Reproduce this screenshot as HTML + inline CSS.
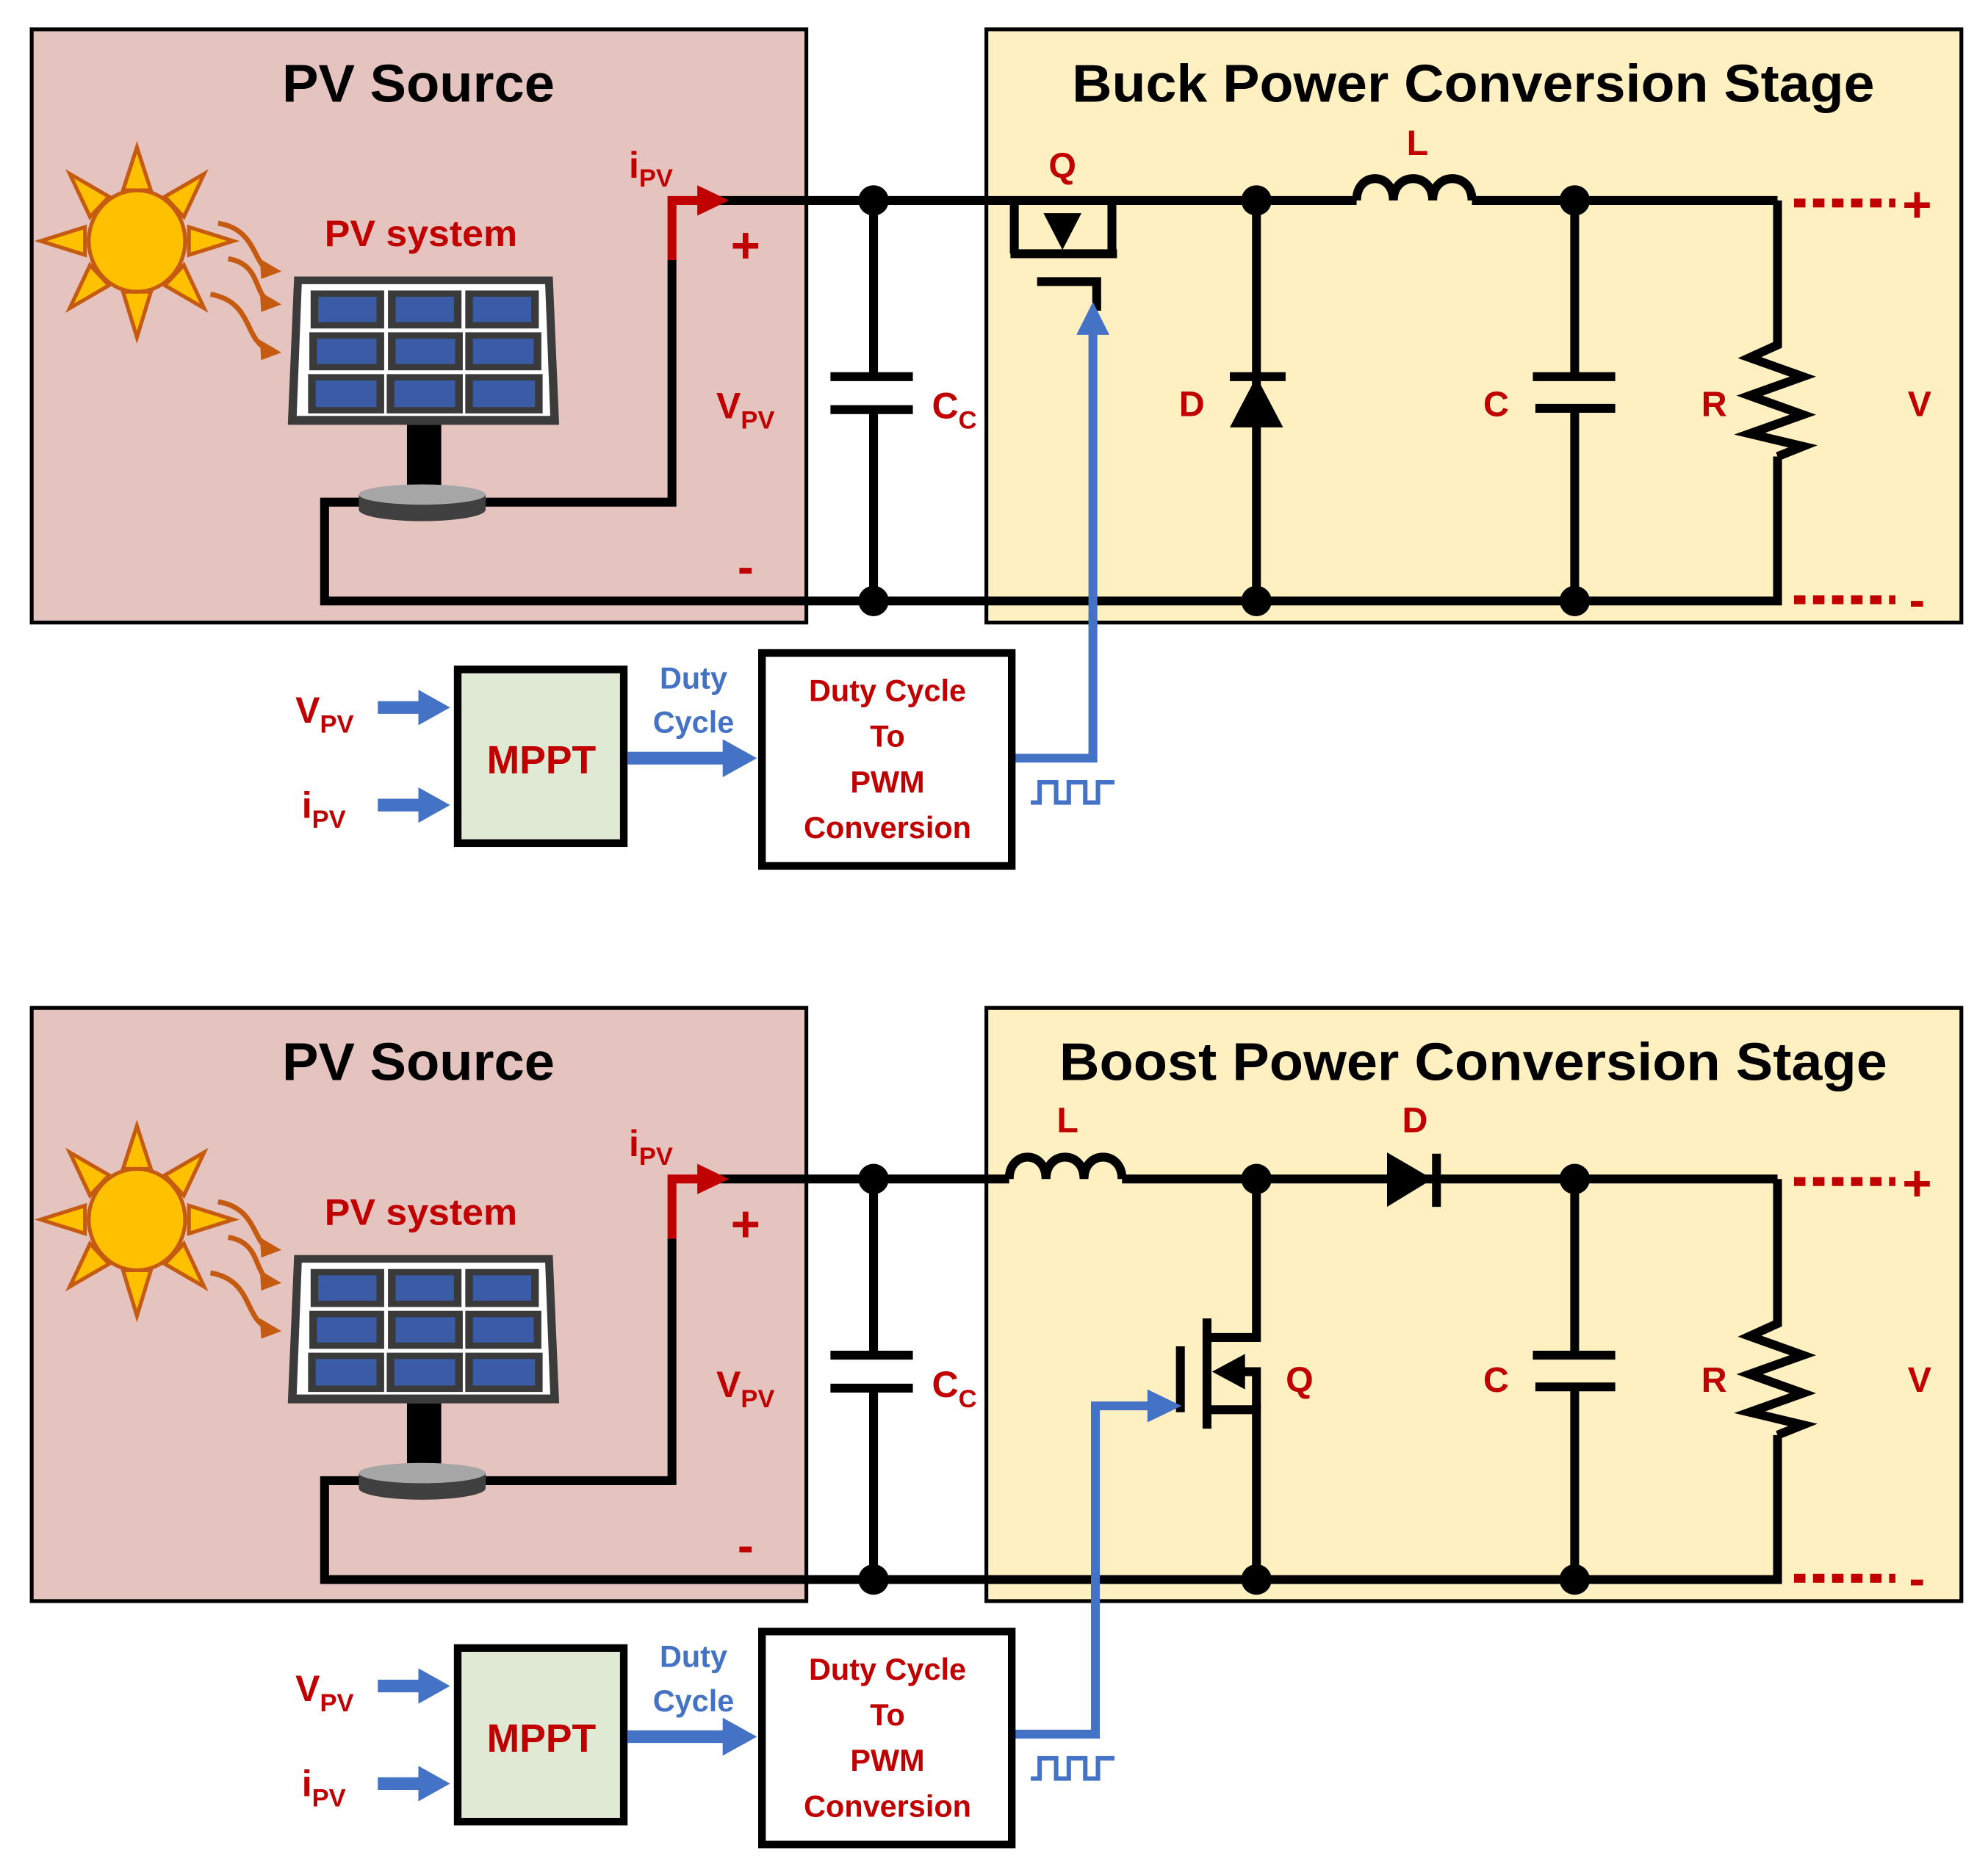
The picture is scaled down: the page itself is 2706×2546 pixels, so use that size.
<!DOCTYPE html>
<html><head><meta charset="utf-8"><style>
html,body{margin:0;padding:0;background:#fff;}
svg{display:block;}
text{font-family:"Liberation Sans",sans-serif;font-weight:bold;}
.r{fill:#c00000;}
.b{fill:#4472c4;}
.k{fill:#000;}
</style></head><body>
<svg width="2706" height="2546" viewBox="0 0 1568 1475" xmlns="http://www.w3.org/2000/svg">
<defs>
  <g id="sun">
    <g fill="#ffc000" stroke="#c55a11" stroke-width="3" stroke-linejoin="miter">
      <polygon points="108,116 97,150 119,150"/>
      <polygon points="108,266 97,230 119,230"/>
      <polygon points="32,190 67,179 67,201"/>
      <polygon points="184,190 149,179 149,201"/>
      <polygon points="55,137 86,155 71,171"/>
      <polygon points="161,137 130,155 145,171"/>
      <polygon points="55,243 86,225 71,209"/>
      <polygon points="161,243 130,225 145,209"/>
      <ellipse cx="108" cy="190" rx="38" ry="40"/>
    </g>
    <g fill="none" stroke="#c55a11" stroke-width="4">
      <path d="M172,176 C200,180 200,205 210,212"/>
      <path d="M180,204 C205,208 200,230 212,238"/>
      <path d="M166,232 C200,238 192,268 212,276"/>
    </g>
    <g fill="#c55a11">
      <polygon points="222,214 205,204 206,220"/>
      <polygon points="222,240 205,230 206,246"/>
      <polygon points="222,278 205,268 206,284"/>
    </g>
  </g>
  <g id="panel">
    <polygon points="232,218 436,218 441,335 227,335" fill="#3b3b3b"/>
    <polygon points="238,224 430,224 434,328 234,328" fill="#fff"/>
    <g fill="#3a3a3a">
      <rect x="245" y="229" width="58" height="30"/><rect x="306" y="229" width="58" height="30"/><rect x="367" y="229" width="58" height="30"/>
      <rect x="244" y="262" width="59" height="30"/><rect x="306" y="262" width="59" height="30"/><rect x="367" y="262" width="60" height="30"/>
      <rect x="243" y="295" width="60" height="31"/><rect x="305" y="295" width="60" height="31"/><rect x="367" y="295" width="61" height="31"/>
    </g>
    <g fill="#3a5ca6">
      <rect x="251" y="234" width="46" height="20"/><rect x="312" y="234" width="46" height="20"/><rect x="373" y="234" width="46" height="20"/>
      <rect x="250" y="267" width="47" height="20"/><rect x="312" y="267" width="47" height="20"/><rect x="373" y="267" width="48" height="20"/>
      <rect x="249" y="300" width="48" height="21"/><rect x="311" y="300" width="48" height="21"/><rect x="373" y="300" width="49" height="21"/>
    </g>
    <rect x="321" y="335" width="27" height="52" fill="#000"/>
  </g>
  <g id="base">
    <path d="M283,390 L283,402 A50,9 0 0 0 383,402 L383,390 Z" fill="#404040"/>
    <ellipse cx="333" cy="390" rx="50" ry="8" fill="#a6a6a6"/>
  </g>
</defs>

<!-- ================= TOP ================= -->
<rect x="25" y="23" width="611" height="468" fill="#e5c3bf" stroke="#000" stroke-width="3"/>
<rect x="778" y="23" width="769" height="468" fill="#fff0c1" stroke="#000" stroke-width="3"/>
<text x="330" y="80" font-size="42" text-anchor="middle" textLength="215" lengthAdjust="spacingAndGlyphs">PV Source</text>
<text x="1162" y="80" font-size="42" text-anchor="middle" textLength="633" lengthAdjust="spacingAndGlyphs">Buck Power Conversion Stage</text>
<use href="#sun"/>
<use href="#panel"/>
<text x="332" y="194" font-size="29" class="r" text-anchor="middle" textLength="152" lengthAdjust="spacingAndGlyphs">PV system</text>
<g fill="none" stroke="#000" stroke-width="7">
  <polyline points="383,396 530,396 530,205"/>
  <polyline points="290,396 256,396 256,474 1402,474 1402,360"/>
  <line x1="565" y1="158" x2="1070" y2="158"/>
  <line x1="800" y1="158" x2="800" y2="200"/>
  <line x1="689" y1="158" x2="689" y2="297"/><line x1="689" y1="323" x2="689" y2="474"/>
  <line x1="655" y1="297" x2="720" y2="297"/><line x1="655" y1="323" x2="720" y2="323"/>
  <line x1="877" y1="158" x2="877" y2="200"/>
  <line x1="797" y1="200" x2="881" y2="200"/>
  <polyline points="818,222 865,222 865,245"/>
  <path d="M1070,158 C1070,135 1099,135 1099,158 C1099,135 1130,135 1130,158 C1130,135 1161,135 1161,158"/>
  <line x1="1161" y1="158" x2="1402" y2="158"/>
  <line x1="991" y1="158" x2="991" y2="474"/>
  <line x1="970" y1="297" x2="1014" y2="297"/>
  <line x1="1242" y1="158" x2="1242" y2="297"/><line x1="1242" y1="322" x2="1242" y2="474"/>
  <line x1="1209" y1="297" x2="1274" y2="297"/><line x1="1211" y1="322" x2="1274" y2="322"/>
  <polyline points="1402,158 1402,272 1380,282 1422,297 1380,312 1422,327 1380,342 1422,352 1402,360"/>
</g>
<polygon points="838,197 823,168 853,168" fill="#000"/>
<polygon points="991,297 970,337 1012,337" fill="#000"/>
<use href="#base"/>
<polyline points="530,205 530,158 556,158" fill="none" stroke="#c00000" stroke-width="7"/>
<polygon points="575,158 550,146 550,170" fill="#c00000"/>
<g fill="#000">
  <circle cx="689" cy="158" r="12"/><circle cx="689" cy="474" r="12"/>
  <circle cx="991" cy="158" r="12"/><circle cx="991" cy="474" r="12"/>
  <circle cx="1242" cy="158" r="12"/><circle cx="1242" cy="474" r="12"/>
</g>
<line x1="1415" y1="160" x2="1495" y2="160" stroke="#c00000" stroke-width="7" stroke-dasharray="9,6"/>
<line x1="1415" y1="473" x2="1495" y2="473" stroke="#c00000" stroke-width="7" stroke-dasharray="9,6"/>
<polyline points="800,598 862,598 862,258" fill="none" stroke="#4472c4" stroke-width="7"/>
<polygon points="862,238 849,264 875,264" fill="#4472c4"/>
<polyline points="813,633 820,633 820,617 833,617 833,633 843,633 843,617 856,617 856,633 866,633 866,617 879,617" fill="none" stroke="#4472c4" stroke-width="3.5"/>
<text x="496" y="140" font-size="29" class="r">i<tspan font-size="20" dy="7">PV</tspan></text>
<text x="588" y="207" font-size="40" class="r" text-anchor="middle">+</text>
<text x="588" y="460" font-size="38" class="r" text-anchor="middle">-</text>
<text x="565" y="330" font-size="29" class="r">V<tspan font-size="20" dy="8">PV</tspan></text>
<text x="735" y="330" font-size="29" class="r">C<tspan font-size="20" dy="8">C</tspan></text>
<text x="838" y="140" font-size="28" class="r" text-anchor="middle">Q</text>
<text x="1118" y="122" font-size="28" class="r" text-anchor="middle">L</text>
<text x="940" y="328" font-size="28" class="r" text-anchor="middle">D</text>
<text x="1180" y="328" font-size="28" class="r" text-anchor="middle">C</text>
<text x="1352" y="328" font-size="28" class="r" text-anchor="middle">R</text>
<text x="1514" y="328" font-size="28" class="r" text-anchor="middle">V</text>
<text x="1512" y="175" font-size="40" class="r" text-anchor="middle">+</text>
<text x="1512" y="486" font-size="38" class="r" text-anchor="middle">-</text>
<rect x="361" y="528" width="131" height="137" fill="#dfe9d3" stroke="#000" stroke-width="6"/>
<rect x="601" y="515" width="197" height="168" fill="#fff" stroke="#000" stroke-width="6"/>
<text x="427" y="610" font-size="31" class="r" text-anchor="middle">MPPT</text>
<g class="b">
  <polygon points="298,553 330,553 330,544 355,558 330,572 330,563 298,563"/>
  <polygon points="298,630 330,630 330,621 355,635 330,649 330,640 298,640"/>
  <polygon points="495,593 570,593 570,583 597,598 570,613 570,603 495,603"/>
</g>
<text x="233" y="570" font-size="29" class="r">V<tspan font-size="20" dy="8">PV</tspan></text>
<text x="238" y="645" font-size="29" class="r">i<tspan font-size="20" dy="8">PV</tspan></text>
<text x="547" y="543" font-size="24" class="b" text-anchor="middle">Duty</text>
<text x="547" y="578" font-size="24" class="b" text-anchor="middle">Cycle</text>
<g font-size="24" class="r" text-anchor="middle">
  <text x="700" y="553">Duty Cycle</text><text x="700" y="589">To</text><text x="700" y="625">PWM</text><text x="700" y="661">Conversion</text>
</g>

<!-- ================= BOTTOM ================= -->
<g transform="translate(0,772)">
<rect x="25" y="23" width="611" height="468" fill="#e5c3bf" stroke="#000" stroke-width="3"/>
<rect x="778" y="23" width="769" height="468" fill="#fff0c1" stroke="#000" stroke-width="3"/>
<text x="330" y="80" font-size="42" text-anchor="middle" textLength="215" lengthAdjust="spacingAndGlyphs">PV Source</text>
<text x="1162" y="80" font-size="42" text-anchor="middle" textLength="653" lengthAdjust="spacingAndGlyphs">Boost Power Conversion Stage</text>
<use href="#sun"/>
<use href="#panel"/>
<text x="332" y="194" font-size="29" class="r" text-anchor="middle" textLength="152" lengthAdjust="spacingAndGlyphs">PV system</text>
<g fill="none" stroke="#000" stroke-width="7">
  <polyline points="383,396 530,396 530,205"/>
  <polyline points="290,396 256,396 256,474 1402,474 1402,360"/>
  <line x1="565" y1="158" x2="796" y2="158"/>
  <line x1="689" y1="158" x2="689" y2="297"/><line x1="689" y1="323" x2="689" y2="474"/>
  <line x1="655" y1="297" x2="720" y2="297"/><line x1="655" y1="323" x2="720" y2="323"/>
  <path d="M796,158 C796,135 825,135 825,158 C825,135 855,135 855,158 C855,135 885,135 885,158"/>
  <line x1="885" y1="158" x2="1402" y2="158"/>
  <polyline points="991,158 991,283 952,283"/>
  <polyline points="952,340 991,340 991,474"/>
  <line x1="952" y1="268" x2="952" y2="355"/>
  <line x1="931" y1="290" x2="931" y2="342"/>
  <polyline points="978,310 991,310 991,340"/>
  <line x1="1133" y1="138" x2="1133" y2="180"/>
  <line x1="1242" y1="158" x2="1242" y2="297"/><line x1="1242" y1="322" x2="1242" y2="474"/>
  <line x1="1209" y1="297" x2="1274" y2="297"/><line x1="1211" y1="322" x2="1274" y2="322"/>
  <polyline points="1402,158 1402,272 1380,282 1422,297 1380,312 1422,327 1380,342 1422,352 1402,360"/>
</g>
<polygon points="1094,137 1094,180 1130,158" fill="#000"/>
<polygon points="956,310 982,296 982,324" fill="#000"/>
<use href="#base"/>
<polyline points="530,205 530,158 556,158" fill="none" stroke="#c00000" stroke-width="7"/>
<polygon points="575,158 550,146 550,170" fill="#c00000"/>
<g fill="#000">
  <circle cx="689" cy="158" r="12"/><circle cx="689" cy="474" r="12"/>
  <circle cx="991" cy="158" r="12"/><circle cx="991" cy="474" r="12"/>
  <circle cx="1242" cy="158" r="12"/><circle cx="1242" cy="474" r="12"/>
</g>
<line x1="1415" y1="160" x2="1495" y2="160" stroke="#c00000" stroke-width="7" stroke-dasharray="9,6"/>
<line x1="1415" y1="473" x2="1495" y2="473" stroke="#c00000" stroke-width="7" stroke-dasharray="9,6"/>
<polyline points="800,596 864,596 864,337 910,337" fill="none" stroke="#4472c4" stroke-width="7"/>
<polygon points="932,337 905,324 905,350" fill="#4472c4"/>
<polyline points="813,631 820,631 820,615 833,615 833,631 843,631 843,615 856,615 856,631 866,631 866,615 879,615" fill="none" stroke="#4472c4" stroke-width="3.5"/>
<text x="496" y="140" font-size="29" class="r">i<tspan font-size="20" dy="7">PV</tspan></text>
<text x="588" y="207" font-size="40" class="r" text-anchor="middle">+</text>
<text x="588" y="460" font-size="38" class="r" text-anchor="middle">-</text>
<text x="565" y="330" font-size="29" class="r">V<tspan font-size="20" dy="8">PV</tspan></text>
<text x="735" y="330" font-size="29" class="r">C<tspan font-size="20" dy="8">C</tspan></text>
<text x="842" y="121" font-size="28" class="r" text-anchor="middle">L</text>
<text x="1116" y="121" font-size="28" class="r" text-anchor="middle">D</text>
<text x="1025" y="326" font-size="28" class="r" text-anchor="middle">Q</text>
<text x="1180" y="326" font-size="28" class="r" text-anchor="middle">C</text>
<text x="1352" y="326" font-size="28" class="r" text-anchor="middle">R</text>
<text x="1514" y="326" font-size="28" class="r" text-anchor="middle">V</text>
<text x="1512" y="175" font-size="40" class="r" text-anchor="middle">+</text>
<text x="1512" y="486" font-size="38" class="r" text-anchor="middle">-</text>
<rect x="361" y="528" width="131" height="137" fill="#dfe9d3" stroke="#000" stroke-width="6"/>
<rect x="601" y="515" width="197" height="168" fill="#fff" stroke="#000" stroke-width="6"/>
<text x="427" y="610" font-size="31" class="r" text-anchor="middle">MPPT</text>
<g class="b">
  <polygon points="298,553 330,553 330,544 355,558 330,572 330,563 298,563"/>
  <polygon points="298,630 330,630 330,621 355,635 330,649 330,640 298,640"/>
  <polygon points="495,593 570,593 570,583 597,598 570,613 570,603 495,603"/>
</g>
<text x="233" y="570" font-size="29" class="r">V<tspan font-size="20" dy="8">PV</tspan></text>
<text x="238" y="645" font-size="29" class="r">i<tspan font-size="20" dy="8">PV</tspan></text>
<text x="547" y="543" font-size="24" class="b" text-anchor="middle">Duty</text>
<text x="547" y="578" font-size="24" class="b" text-anchor="middle">Cycle</text>
<g font-size="24" class="r" text-anchor="middle">
  <text x="700" y="553">Duty Cycle</text><text x="700" y="589">To</text><text x="700" y="625">PWM</text><text x="700" y="661">Conversion</text>
</g>
</g>
</svg>
</body></html>
